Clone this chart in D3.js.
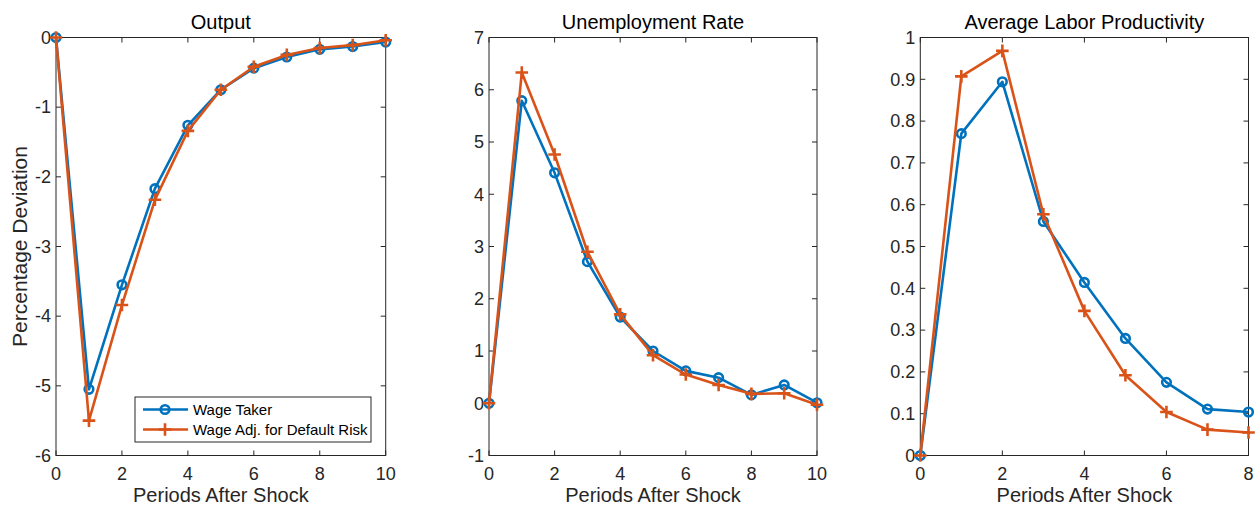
<!DOCTYPE html>
<html>
<head>
<meta charset="utf-8">
<script src="https://cdn.jsdelivr.net/npm/d3@7"></script>
<style>
  html, body { margin: 0; padding: 0; background: #fff; }
  svg { display: block; font-family: "Liberation Sans", Arial, Helvetica, sans-serif; }
</style>
</head>
<body>
<svg id="chart" width="1255" height="506"></svg>
<script>
// Impulse responses after the shock (percentage deviation from steady state)
const periods10 = [0, 1, 2, 3, 4, 5, 6, 7, 8, 9, 10];
const periods8 = [0, 1, 2, 3, 4, 5, 6, 7, 8];

const outputTaker = [0, -5.05, -3.55, -2.17, -1.26, -0.75, -0.44, -0.28, -0.17, -0.13, -0.065];
const outputAdj   = [0, -5.50, -3.84, -2.33, -1.34, -0.75, -0.42, -0.25, -0.15, -0.11, -0.04];

const unempTaker = [0, 5.79, 4.41, 2.71, 1.65, 1.00, 0.62, 0.49, 0.16, 0.35, 0.01];
const unempAdj   = [0, 6.33, 4.76, 2.90, 1.70, 0.92, 0.55, 0.35, 0.18, 0.19, -0.03];

const prodTaker = [0, 0.770, 0.894, 0.560, 0.414, 0.280, 0.175, 0.111, 0.104];
const prodAdj   = [0, 0.907, 0.968, 0.577, 0.346, 0.192, 0.104, 0.062, 0.055];

const seriesNames = ["Wage Taker", "Wage Adj. for Default Risk"];
const seriesColors = ["#0072BD", "#D95319"];

const xTicks10 = [0, 2, 4, 6, 8, 10];
const xTicks8 = [0, 2, 4, 6, 8];
const outputTicks = [-6, -5, -4, -3, -2, -1, 0];
const unempTicks = [-1, 0, 1, 2, 3, 4, 5, 6, 7];
const prodTicks = [0, 0.1, 0.2, 0.3, 0.4, 0.5, 0.6, 0.7, 0.8, 0.9, 1];

const AXIS = "#262626";
const TICK_FONT = 18;
const LABEL_FONT = 20;
const LEGEND_FONT = 15;
const LINE_W = 2.6;
const TOP = 37.5, BOTTOM = 455.5;

const svg = d3.select("#chart");

const panels = [
  { title: "Output", left: 56, right: 385.7, periods: periods10, xDomain: [0, 10], xTicks: xTicks10,
    yDomain: [-6, 0], yTicks: outputTicks, series: [outputTaker, outputAdj], ylabel: "Percentage Deviation", legend: true },
  { title: "Unemployment Rate", left: 489, right: 817, periods: periods10, xDomain: [0, 10], xTicks: xTicks10,
    yDomain: [-1, 7], yTicks: unempTicks, series: [unempTaker, unempAdj] },
  { title: "Average Labor Productivity", left: 920.3, right: 1248.5, periods: periods8, xDomain: [0, 8], xTicks: xTicks8,
    yDomain: [0, 1], yTicks: prodTicks, series: [prodTaker, prodAdj] }
];

function circleMarker(sel, color) {
  sel.append("circle").attr("r", 4.3).attr("fill", "none")
    .attr("stroke", color).attr("stroke-width", LINE_W);
}
function plusMarker(sel, color) {
  const s = 6.3;
  sel.append("path").attr("d", `M${-s},0H${s}M0,${-s}V${s}`)
    .attr("fill", "none").attr("stroke", color).attr("stroke-width", LINE_W);
}
const markers = [circleMarker, plusMarker];

// Tick labels use a plain hyphen for negatives
const fmt = d => String(d);

panels.forEach(p => {
  const x = d3.scaleLinear().domain(p.xDomain).range([p.left, p.right]);
  const y = d3.scaleLinear().domain(p.yDomain).range([BOTTOM, TOP]);
  const g = svg.append("g");
  const tickLen = 5;

  // White plot area with box outline
  g.append("rect").attr("x", p.left).attr("y", TOP)
    .attr("width", p.right - p.left).attr("height", BOTTOM - TOP)
    .attr("fill", "#fff").attr("stroke", AXIS).attr("stroke-width", 1);

  // Inward ticks on all four sides
  const ticks = g.append("g").attr("stroke", AXIS).attr("stroke-width", 1);
  p.xTicks.forEach(t => {
    const xx = x(t);
    ticks.append("line").attr("x1", xx).attr("x2", xx).attr("y1", BOTTOM).attr("y2", BOTTOM - tickLen);
    ticks.append("line").attr("x1", xx).attr("x2", xx).attr("y1", TOP).attr("y2", TOP + tickLen);
  });
  p.yTicks.forEach(t => {
    const yy = y(t);
    ticks.append("line").attr("x1", p.left).attr("x2", p.left + tickLen).attr("y1", yy).attr("y2", yy);
    ticks.append("line").attr("x1", p.right).attr("x2", p.right - tickLen).attr("y1", yy).attr("y2", yy);
  });

  // Tick labels
  g.append("g").selectAll("text").data(p.xTicks).join("text")
    .attr("x", d => x(d)).attr("y", BOTTOM + 24)
    .attr("text-anchor", "middle").attr("font-size", TICK_FONT).attr("fill", AXIS)
    .text(fmt);
  g.append("g").selectAll("text").data(p.yTicks).join("text")
    .attr("x", p.left - 5).attr("y", d => y(d)).attr("dy", "0.35em")
    .attr("text-anchor", "end").attr("font-size", TICK_FONT).attr("fill", AXIS)
    .text(fmt);

  // Title and axis labels
  g.append("text").attr("x", (p.left + p.right) / 2).attr("y", 29)
    .attr("text-anchor", "middle").attr("font-size", LABEL_FONT).attr("fill", "#000")
    .text(p.title);
  g.append("text").attr("x", (p.left + p.right) / 2).attr("y", 502)
    .attr("text-anchor", "middle").attr("font-size", LABEL_FONT).attr("fill", AXIS)
    .text("Periods After Shock");
  if (p.ylabel) {
    g.append("text")
      .attr("transform", `translate(27,${(TOP + BOTTOM) / 2}) rotate(-90)`)
      .attr("text-anchor", "middle").attr("font-size", LABEL_FONT + 1).attr("fill", AXIS)
      .text(p.ylabel);
  }

  // Series lines and markers
  p.series.forEach((vals, i) => {
    const pts = p.periods.map((t, k) => [t, vals[k]]);
    g.append("path").datum(pts)
      .attr("d", d3.line().x(d => x(d[0])).y(d => y(d[1])))
      .attr("fill", "none").attr("stroke", seriesColors[i])
      .attr("stroke-width", LINE_W).attr("stroke-linejoin", "round");
    pts.forEach(d => {
      const m = g.append("g").attr("transform", `translate(${x(d[0])},${y(d[1])})`);
      markers[i](m, seriesColors[i]);
    });
  });

  // Legend
  if (p.legend) {
    const lx = 135, ly = 397, lw = 236, lh = 45;
    const lg = g.append("g");
    lg.append("rect").attr("x", lx).attr("y", ly).attr("width", lw).attr("height", lh)
      .attr("fill", "#fff").attr("stroke", AXIS).attr("stroke-width", 1);
    seriesNames.forEach((name, i) => {
      const ry = ly + 12.5 + i * 20;
      lg.append("line").attr("x1", lx + 8).attr("x2", lx + 53)
        .attr("y1", ry).attr("y2", ry)
        .attr("stroke", seriesColors[i]).attr("stroke-width", LINE_W);
      const m = lg.append("g").attr("transform", `translate(${lx + 30},${ry})`);
      markers[i](m, seriesColors[i]);
      lg.append("text").attr("x", lx + 58).attr("y", ry).attr("dy", "0.35em")
        .attr("font-size", LEGEND_FONT).attr("fill", "#000").text(name);
    });
  }
});
</script>
</body>
</html>
